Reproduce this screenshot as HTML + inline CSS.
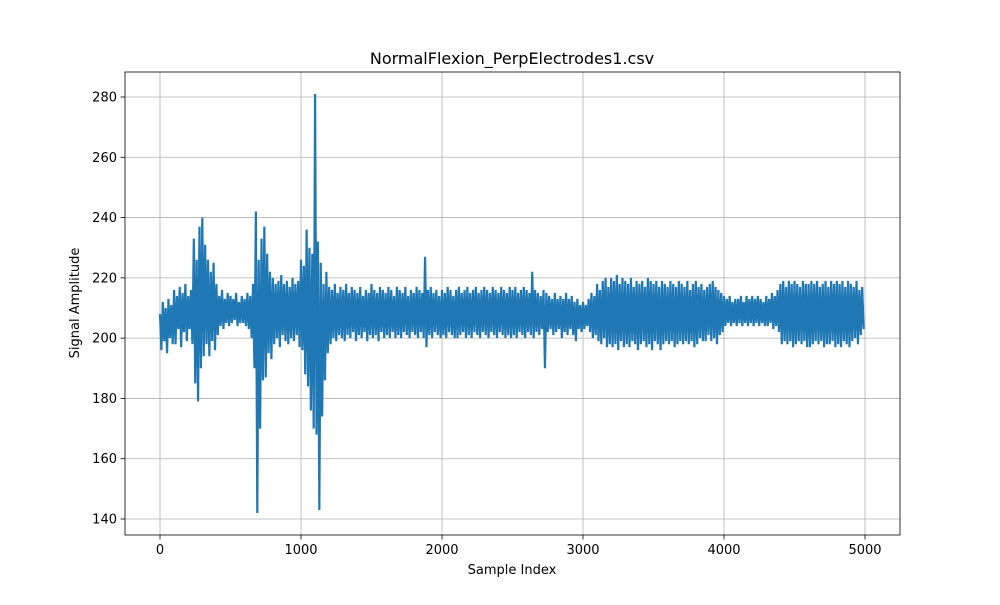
<!DOCTYPE html>
<html><head><meta charset="utf-8"><style>
body{margin:0;background:#fff}
svg text{font-family:"DejaVu Sans","Liberation Sans",sans-serif;fill:#000}
</style></head><body>
<svg id="chart" width="1000" height="600" xmlns="http://www.w3.org/2000/svg">
<rect width="1000" height="600" fill="#fff"/>
<g id="grid"></g>
<polyline id="line" fill="none" stroke="#1f77b4" stroke-width="2.2" stroke-linejoin="miter"/>
<rect x="125" y="72" width="775" height="463" fill="none" stroke="#000" stroke-width="0.8"/>
<g id="ticks"></g>
<text x="512" y="64" font-size="16" text-anchor="middle">NormalFlexion_PerpElectrodes1.csv</text>
<text x="512" y="574" font-size="13" text-anchor="middle">Sample Index</text>
<text x="79" y="303" font-size="13" text-anchor="middle" transform="rotate(-90 79 303)">Signal Amplitude</text>
</svg>
<script>
const xTicks=[0,1000,2000,3000,4000,5000];
const yTicks=[140,160,180,200,220,240,260,280];
const step=10;
const values=[
208,196,212,199,210,195,213,200,211,198,
216,198,214,203,217,197,215,202,218,199,
214,203,216,198,233,185,226,179,237,190,
240,194,231,198,226,194,222,199,225,196,
218,201,214,204,216,203,213,205,215,204,
214,205,213,206,215,204,212,205,214,205,
213,204,215,203,214,200,218,190,242,142,
226,170,233,186,237,187,228,195,222,193,
220,198,218,200,219,197,221,201,218,199,
219,198,217,200,220,199,218,201,219,197,
226,196,224,188,236,184,230,176,228,170,
281,168,232,143,225,174,218,186,222,195,
217,198,216,200,218,199,215,201,217,200,
216,199,218,201,215,200,217,202,216,199,
215,201,217,200,214,202,216,199,215,201,
218,200,216,201,215,199,217,202,216,200,
215,201,217,200,216,202,214,200,217,201,
216,200,215,202,217,201,214,200,216,202,
215,201,217,200,216,202,215,200,227,197,
216,201,217,200,215,202,216,201,214,200,
216,201,215,200,217,202,216,201,214,200,
216,200,217,201,215,202,216,200,217,201,
215,200,216,202,217,201,215,200,216,202,
217,201,216,200,215,202,217,201,216,200,
215,202,217,201,216,200,215,201,217,200,
216,201,217,200,215,202,216,201,217,200,
216,202,215,201,222,200,216,202,215,201,
214,203,216,190,215,202,214,203,213,201,
215,202,213,203,214,200,213,202,215,201,
213,203,214,201,212,199,213,203,211,202,
212,203,211,204,213,202,215,200,214,201,
218,199,216,198,219,200,220,197,217,198,
220,197,219,198,221,196,218,199,220,197,
219,198,218,197,220,199,217,198,219,196,
218,198,219,199,217,197,220,198,219,196,
218,199,219,198,217,196,219,198,218,199,
217,198,219,199,218,197,217,198,219,199,
218,198,217,199,219,198,216,199,218,197,
219,198,217,200,218,199,216,199,217,201,
218,199,219,200,217,198,216,201,215,202,
214,204,213,205,214,204,212,205,213,204,
213,205,214,204,212,205,214,204,213,205,
214,204,213,205,214,204,213,205,212,204,
214,204,213,205,215,203,214,204,216,202,
218,198,219,199,217,198,219,199,218,197,
219,198,218,199,217,198,219,199,218,197,
218,197,219,198,218,199,219,198,217,199,
218,197,219,198,217,198,219,199,218,197,
219,198,218,197,219,199,217,198,219,197,
218,199,217,200,219,198,216,201,217,203];
const X=v=>160+v*(865-160)/5000;
const Y=v=>519-(v-140)*(519-97)/140;
const NS="http://www.w3.org/2000/svg";
const grid=document.getElementById('grid'),ticks=document.getElementById('ticks');
function mk(p,tag,attrs){const e=document.createElementNS(NS,tag);for(const k in attrs)e.setAttribute(k,attrs[k]);p.appendChild(e);return e;}
xTicks.forEach(t=>{
 const g=mk(grid,'line',{x1:X(t),x2:X(t),y1:72,y2:535,stroke:'#b0b0b0','stroke-width':0.8});
 
 
 mk(ticks,'line',{x1:X(t),x2:X(t),y1:535,y2:539.5,stroke:'#000','stroke-width':0.8});
 const tx=mk(ticks,'text',{x:X(t),y:554,'font-size':13,'text-anchor':'middle'});
 
 
 tx.textContent=t;
});
yTicks.forEach(t=>{
 const g=mk(grid,'line',{x1:125,x2:900,y1:Y(t),y2:Y(t),stroke:'#b0b0b0','stroke-width':0.8});
 
 
 mk(ticks,'line',{x1:120.5,x2:125,y1:Y(t),y2:Y(t),stroke:'#000','stroke-width':0.8});
 const tx=mk(ticks,'text',{x:117,y:Y(t)+4.5,'font-size':13,'text-anchor':'end'});
 
 
 tx.textContent=t;
});
document.getElementById('line').setAttribute('points',values.map((v,i)=>X(i*step).toFixed(2)+','+Y(v).toFixed(2)).join(' '));
</script>
</body></html>
